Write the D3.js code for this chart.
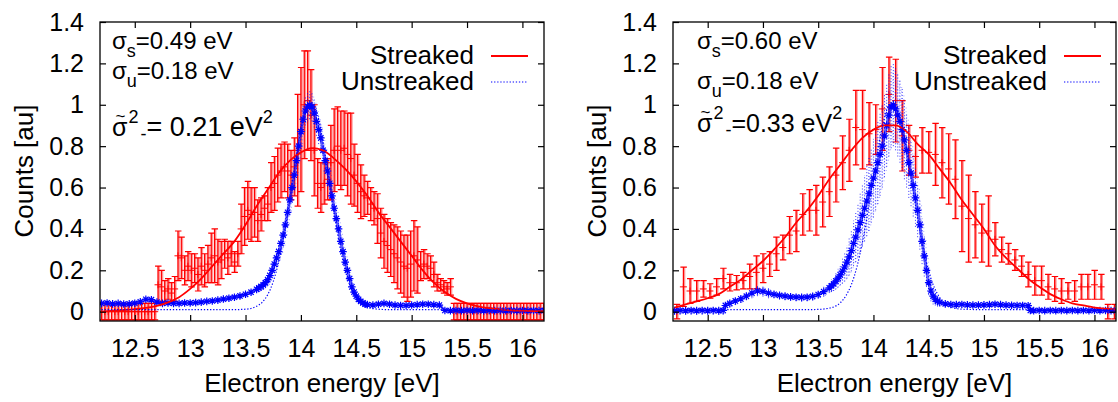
<!DOCTYPE html>
<html><head><meta charset="utf-8">
<script src="https://cdn.jsdelivr.net/npm/d3@7"></script>
<style>
body{margin:0;background:#fff}
svg{display:block}
text{font-family:"Liberation Sans",Arial,Helvetica,sans-serif;fill:#000}
</style>
</head><body>
<svg id="chart" width="1118" height="402"></svg>
<script>
// ---------------- tick labels ----------------
const xTicks = [12.5,13,13.5,14,14.5,15,15.5,16];
const xTickLabels = ["12.5","13","13.5","14","14.5","15","15.5","16"];
const yTicks = [0,0.2,0.4,0.6,0.8,1,1.2,1.4];
const yTickLabels = ["0","0.2","0.4","0.6","0.8","1","1.2","1.4"];
const xTitle = "Electron energy [eV]";
const yTitle = "Counts [au]";
const legendNames = ["Streaked","Unstreaked"];

// ---------------- LEFT panel: streaked data ----------------
const leftStreakE = [12.20,12.23,12.26,12.29,12.32,12.35,12.38,12.41,12.44,12.47,12.50,12.53,12.56,12.59,12.62,12.65,12.68,
12.71,12.74,12.77,12.80,12.83,12.86,12.89,12.92,12.95,12.98,
13.01,13.04,13.07,13.10,13.13,13.16,13.19,13.22,13.25,13.28,13.31,13.34,13.37,13.40,13.43,13.46,13.49,13.52,13.55,13.58,13.61,13.64,13.67,13.70,13.73,13.76,13.79,13.82,13.85,13.88,13.91,13.94,13.97,
14.00,14.03,14.06,14.09,14.12,14.15,14.18,14.21,14.24,14.27,14.30,14.33,14.36,14.39,14.42,14.45,14.48,14.51,14.54,14.57,14.60,14.63,14.66,14.69,14.72,14.75,14.78,14.81,14.84,14.87,14.90,14.93,14.96,14.99,
15.02,15.05,15.08,15.11,15.14,15.17,15.20,15.23,15.26,15.29,15.32,15.35,
15.38,15.41,15.44,15.47,15.50,15.53,15.56,15.59,15.62,15.65,15.68,15.71,15.74,15.77,15.80,15.83,15.86,15.89,15.92,15.95,15.98,16.01,16.04,16.07,16.10,16.13,16.16,16.19];
const leftStreakV = [0,0,0,0,0,0,0,0,0,0,0,0,0,0,0,0,0,
0.13,0.12,0.10,0.11,0.09,0.11,0.27,0.26,0.20,0.22,
0.20,0.21,0.18,0.22,0.20,0.23,0.26,0.27,0.24,0.25,0.28,0.26,0.28,0.24,0.28,0.40,0.46,0.49,0.47,0.48,0.44,0.47,0.50,0.52,0.60,0.62,0.66,0.68,0.70,0.68,0.66,0.70,0.78,
0.88,1.00,1.02,0.95,0.78,0.62,0.60,0.62,0.64,0.72,0.78,0.80,0.78,0.79,0.76,0.74,0.66,0.62,0.58,0.56,0.55,0.52,0.50,0.45,0.38,0.34,0.32,0.30,0.28,0.26,0.24,0.22,0.21,0.23,
0.27,0.25,0.22,0.23,0.22,0.21,0.18,0.14,0.13,0.12,0.11,0.12,
0,0,0,0,0,0,0,0,0,0,0,0,0,0,0,0,0,0,0,0,0,0,0,0,0,0,0,0];
const leftStreakErr = [0.04,0.04,0.04,0.04,0.04,0.04,0.04,0.04,0.04,0.04,0.04,0.04,0.04,0.04,0.04,0.04,0.04,
0.09,0.08,0.05,0.05,0.05,0.06,0.12,0.10,0.07,0.07,
0.08,0.07,0.08,0.09,0.08,0.09,0.12,0.13,0.11,0.09,0.07,0.08,0.06,0.05,0.06,0.12,0.14,0.14,0.13,0.12,0.10,0.08,0.06,0.08,0.12,0.13,0.13,0.13,0.12,0.13,0.12,0.14,0.27,
0.30,0.26,0.24,0.22,0.22,0.12,0.12,0.10,0.10,0.18,0.20,0.19,0.19,0.18,0.20,0.22,0.15,0.14,0.13,0.10,0.08,0.08,0.08,0.12,0.12,0.13,0.13,0.13,0.14,0.15,0.15,0.15,0.16,0.16,
0.17,0.16,0.07,0.07,0.06,0.06,0.06,0.04,0.03,0.03,0.03,0.04,
0.04,0.04,0.04,0.04,0.04,0.04,0.04,0.04,0.04,0.04,0.04,0.04,0.04,0.04,0.04,0.04,0.04,0.04,0.04,0.04,0.04,0.04,0.04,0.04,0.04,0.04,0.04,0.04];

// ---------------- LEFT panel: unstreaked data ----------------
const leftUnstreakE = [12.20,12.25,12.30,12.35,12.40,12.45,12.50,12.55,12.60,12.65,12.70,12.75,12.80,12.85,12.90,12.95,13.00,13.05,13.10,13.15,13.20,13.25,13.30,13.35,13.40,13.45,13.50,13.55,13.60,
13.62,13.64,13.66,13.68,13.70,13.72,13.74,13.76,13.78,13.80,13.82,13.84,13.86,13.88,13.90,13.92,13.94,13.96,13.98,
14.00,14.02,14.04,14.06,14.08,14.10,14.12,14.14,14.16,14.18,14.20,14.22,14.24,14.26,14.28,14.30,14.32,14.34,14.36,14.38,14.40,14.42,14.44,14.46,14.48,14.50,14.52,14.54,14.56,14.58,14.60,
14.65,14.70,14.75,14.80,14.85,14.90,14.95,15.00,15.05,15.10,15.15,15.20,15.25,
15.30,15.35,15.40,15.45,15.50,15.55,15.60,15.65,15.70,15.75,15.80,15.85,15.90,15.95,16.00,16.05,16.10,16.15,16.20];
const leftUnstreakV = [0.040,0.042,0.038,0.040,0.037,0.038,0.041,0.048,0.060,0.058,0.046,0.040,0.042,0.040,0.040,0.042,0.042,0.044,0.046,0.050,0.052,0.056,0.061,0.065,0.070,0.076,0.084,0.094,0.108,
0.115,0.122,0.13,0.14,0.155,0.175,0.20,0.23,0.26,0.29,0.33,0.37,0.42,0.48,0.54,0.60,0.66,0.73,0.80,
0.87,0.93,0.97,0.99,1.00,0.99,0.96,0.92,0.88,0.84,0.78,0.73,0.68,0.62,0.56,0.50,0.45,0.40,0.34,0.29,0.24,0.20,0.16,0.12,0.095,0.075,0.060,0.050,0.042,0.036,0.034,
0.032,0.036,0.040,0.036,0.032,0.030,0.030,0.032,0.034,0.036,0.036,0.034,0.032,
0.006,0.005,0.006,0.005,0.006,0.005,0.006,0.005,0.006,0.005,0.006,0.005,0.006,0.005,0.006,0.005,0.006,0.005,0.006];
const leftUnstreakErr = [0.012,0.012,0.012,0.012,0.012,0.012,0.012,0.012,0.012,0.012,0.012,0.012,0.012,0.012,0.012,0.012,0.012,0.012,0.012,0.012,0.012,0.012,0.015,0.015,0.015,0.015,0.015,0.015,0.015,
0.02,0.02,0.025,0.025,0.03,0.03,0.035,0.04,0.045,0.05,0.055,0.06,0.06,0.065,0.065,0.07,0.07,0.07,0.07,
0.07,0.07,0.07,0.07,0.07,0.07,0.07,0.07,0.07,0.07,0.07,0.065,0.065,0.06,0.06,0.055,0.05,0.05,0.045,0.04,0.035,0.03,0.03,0.025,0.02,0.02,0.015,0.015,0.012,0.012,0.012,
0.012,0.012,0.012,0.012,0.012,0.012,0.012,0.012,0.012,0.012,0.012,0.012,0.012,
0.008,0.008,0.008,0.008,0.008,0.008,0.008,0.008,0.008,0.008,0.008,0.008,0.008,0.008,0.008,0.008,0.008,0.008,0.008];

// ---------------- LEFT panel: fits ----------------
const leftStreakFitE = [12.2,12.3,12.4,12.5,12.6,12.7,12.8,12.9,13.0,13.1,13.2,13.3,13.4,13.5,13.6,13.7,13.8,13.9,14.0,14.1,14.2,14.3,14.4,14.5,14.6,14.7,14.8,14.9,15.0,15.1,15.2,15.3,15.4,15.5,15.6,15.7,15.8,15.9,16.0,16.1,16.2];
const leftStreakFitV = [0.000,0.005,0.008,0.012,0.018,0.028,0.045,0.07,0.11,0.16,0.22,0.28,0.34,0.42,0.51,0.59,0.67,0.73,0.77,0.79,0.78,0.74,0.69,0.63,0.56,0.48,0.41,0.34,0.27,0.20,0.14,0.095,0.062,0.04,0.026,0.017,0.011,0.007,0.005,0.003,0.002];
const leftUnstreakFitE = [12.2,12.4,12.6,12.8,13.0,13.2,13.4,13.5,13.6,13.65,13.7,13.75,13.8,13.85,13.9,13.95,14.0,14.05,14.1,14.15,14.2,14.25,14.3,14.35,14.4,14.45,14.5,14.55,14.6,14.7,14.8,15.0,15.5,16.2];
const leftUnstreakFitV = [0.01,0.01,0.01,0.01,0.01,0.01,0.01,0.012,0.026,0.045,0.082,0.145,0.243,0.38,0.545,0.72,0.88,0.98,1.00,0.95,0.82,0.65,0.476,0.32,0.20,0.116,0.064,0.036,0.021,0.012,0.01,0.01,0.01,0.01];

// ---------------- RIGHT panel: streaked data ----------------
const rightStreakE = [12.22,12.28,12.34,12.40,12.46,12.52,12.58,12.64,12.70,12.76,12.82,12.88,12.94,13.00,13.06,13.12,13.18,13.24,13.30,13.36,13.42,13.48,13.54,13.60,13.66,13.72,13.78,13.84,13.90,13.96,14.02,14.08,14.14,14.20,14.26,14.32,14.38,14.44,14.50,14.56,14.62,14.68,14.74,14.80,14.86,14.92,14.98,15.04,15.10,15.16,15.22,15.28,15.34,15.40,15.46,15.52,15.58,15.64,15.70,15.76,15.82,15.88,15.94,16.00,16.06,16.12,16.18];
const rightStreakV = [0.00,0.12,0.10,0.10,0.11,0.10,0.12,0.16,0.14,0.14,
0.15,0.17,0.19,0.21,0.23,0.28,0.31,0.37,0.39,0.47,
0.49,0.49,0.53,0.58,0.66,0.72,0.78,0.89,0.88,0.86,
0.88,0.98,1.05,1.02,0.85,0.78,0.75,0.78,0.77,0.76,
0.72,0.69,0.64,0.51,0.45,0.42,0.38,0.39,0.35,0.30,
0.28,0.25,0.22,0.18,0.15,0.15,0.12,0.11,0.10,0.10,
0.10,0.12,0.12,0.13,0.12,0.00,0.00];
const rightStreakErr = [0.035,0.095,0.06,0.05,0.04,0.035,0.04,0.05,0.04,0.035,
0.04,0.06,0.08,0.07,0.06,0.08,0.06,0.09,0.10,0.10,
0.10,0.12,0.12,0.12,0.13,0.13,0.15,0.18,0.19,0.15,
0.12,0.20,0.18,0.20,0.17,0.12,0.10,0.11,0.10,0.15,
0.17,0.17,0.19,0.22,0.21,0.16,0.14,0.17,0.08,0.06,
0.05,0.05,0.05,0.06,0.07,0.07,0.06,0.06,0.06,0.04,
0.05,0.06,0.06,0.07,0.06,0.035,0.035];

// ---------------- RIGHT panel: unstreaked data ----------------
const rightUnstreakE = [12.20,12.25,12.30,12.35,12.40,12.45,12.50,12.55,12.60,12.64,12.66,
12.70,12.75,12.80,12.85,12.90,12.95,13.00,13.05,13.10,13.15,13.20,13.25,13.30,13.35,13.40,13.45,13.50,13.55,13.60,
13.62,13.64,13.66,13.68,13.70,13.72,13.74,13.76,13.78,13.80,13.82,13.84,13.86,13.88,13.90,13.92,13.94,13.96,13.98,
14.00,14.02,14.04,14.06,14.08,14.10,14.12,14.14,14.16,14.18,14.20,14.22,14.24,14.26,14.28,14.30,14.32,14.34,14.36,14.38,14.40,14.42,14.44,14.46,14.48,14.50,14.52,14.54,14.56,14.58,14.60,
14.65,14.70,14.75,14.80,14.85,14.90,14.95,15.00,15.05,15.10,15.15,15.20,15.25,15.30,15.35,15.40,15.42,
15.45,15.50,15.55,15.60,15.65,15.70,15.75,15.80,15.85,15.90,15.95,16.00,16.05,16.10,16.15,16.20];
const rightUnstreakV = [0.005,0.006,0.005,0.006,0.005,0.006,0.005,0.006,0.005,0.006,0.030,
0.040,0.052,0.062,0.075,0.090,0.100,0.098,0.090,0.084,0.079,0.075,0.072,0.070,0.069,0.070,0.074,0.083,0.097,0.115,
0.125,0.135,0.148,0.162,0.178,0.196,0.216,0.24,0.265,0.295,0.33,0.36,0.395,0.43,0.465,0.50,0.535,0.57,0.61,
0.645,0.68,0.72,0.76,0.80,0.85,0.90,0.95,0.99,1.00,0.98,0.95,0.92,0.88,0.83,0.78,0.72,0.67,0.61,0.55,0.49,0.42,0.34,0.27,0.20,0.14,0.10,0.075,0.060,0.050,0.045,
0.038,0.035,0.034,0.035,0.033,0.032,0.032,0.033,0.034,0.036,0.034,0.032,0.031,0.030,0.030,0.029,0.006,
0.005,0.006,0.005,0.006,0.005,0.006,0.005,0.006,0.005,0.006,0.005,0.006,0.005,0.006,0.005,0.006];
const rightUnstreakErr = [0.02,0.02,0.02,0.02,0.02,0.02,0.02,0.02,0.02,0.02,0.015,
0.02,0.02,0.02,0.02,0.025,0.025,0.025,0.025,0.02,0.02,0.02,0.02,0.02,0.02,0.02,0.02,0.02,0.025,0.025,
0.03,0.035,0.04,0.045,0.05,0.06,0.07,0.08,0.09,0.10,0.11,0.12,0.13,0.14,0.15,0.16,0.17,0.18,0.18,
0.19,0.19,0.20,0.20,0.20,0.20,0.20,0.20,0.20,0.20,0.20,0.20,0.20,0.20,0.19,0.18,0.17,0.16,0.15,0.14,0.13,0.12,0.11,0.10,0.08,0.06,0.05,0.04,0.03,0.025,0.02,
0.015,0.015,0.015,0.015,0.015,0.015,0.015,0.015,0.015,0.015,0.015,0.015,0.015,0.015,0.015,0.015,0.01,
0.01,0.01,0.01,0.01,0.01,0.01,0.01,0.01,0.01,0.01,0.01,0.01,0.01,0.01,0.01,0.01];

// ---------------- RIGHT panel: fits ----------------
const rightStreakFitE = [12.2,12.3,12.4,12.5,12.6,12.7,12.8,12.9,13.0,13.1,13.2,13.3,13.4,13.5,13.6,13.7,13.8,13.9,14.0,14.1,14.2,14.3,14.4,14.5,14.6,14.7,14.8,14.9,15.0,15.1,15.2,15.3,15.4,15.5,15.6,15.7,15.8,15.9,16.0,16.1,16.2];
const rightStreakFitV = [0.02,0.035,0.05,0.065,0.085,0.12,0.155,0.20,0.245,0.30,0.36,0.43,0.49,0.56,0.64,0.71,0.78,0.84,0.88,0.90,0.90,0.87,0.81,0.76,0.69,0.62,0.54,0.47,0.40,0.32,0.26,0.21,0.16,0.12,0.085,0.06,0.04,0.03,0.02,0.015,0.01];
const rightUnstreakFitE = [12.2,12.4,12.6,12.8,13.0,13.2,13.4,13.5,13.6,13.65,13.7,13.75,13.8,13.85,13.9,13.95,14.0,14.05,14.1,14.15,14.2,14.25,14.3,14.35,14.4,14.45,14.5,14.55,14.6,14.7,14.8,15.0,15.5,16.2];
const rightUnstreakFitV = [0.01,0.01,0.01,0.01,0.01,0.01,0.01,0.011,0.017,0.025,0.043,0.076,0.131,0.216,0.335,0.484,0.65,0.81,0.937,1.00,0.996,0.916,0.78,0.617,0.452,0.308,0.196,0.118,0.068,0.023,0.012,0.01,0.01,0.01];

// ---------------- panel annotations ----------------
const leftNotes = {sigmaS:"=0.49 eV", sigmaU:"=0.18 eV", diff:"= 0.21 eV"};
const rightNotes = {sigmaS:"=0.60 eV", sigmaU:"=0.18 eV", diff:"=0.33 eV"};

// ================= drawing =================
const svg = d3.select("#chart");
const xDomain = [12.186, 16.195];
const yDomain = [-0.045, 1.4];
const TOP = 22, BOTTOM = 321;
const RED = "#ff0000", BLUE = "#0000ff";

const zip = (E, V, Er) => E.map((e, i) => ({e, v: V[i], err: Er ? Er[i] : 0}));

function drawPanel(id, left, right, d, notes, layout) {
  const g = svg.append("g");
  const x = d3.scaleLinear().domain(xDomain).range([left, right]);
  const y = d3.scaleLinear().domain(yDomain).range([BOTTOM, TOP]);

  svg.append("clipPath").attr("id", "clip" + id)
    .append("rect").attr("x", left).attr("y", TOP).attr("width", right - left).attr("height", BOTTOM - TOP);
  const plot = g.append("g").attr("clip-path", `url(#clip${id})`);

  // streaked data with error bars
  const sd = zip(d.sE, d.sV, d.sErr);
  const sg = plot.append("g").attr("fill", "none");
  sg.selectAll("line.under").data(sd).join("line").attr("class", "under")
    .attr("x1", p => x(p.e) + 0.8).attr("x2", p => x(p.e) + 0.8)
    .attr("y1", p => y(p.v - p.err)).attr("y2", p => y(p.v + p.err))
    .attr("stroke", "#ff7070").attr("stroke-width", 2.2).attr("opacity", 0.75);
  sg.selectAll("path.eb").data(sd).join("path").attr("class", "eb")
    .attr("stroke", RED).attr("stroke-width", 1.2)
    .attr("d", p => {
      const px = x(p.e), y0 = y(p.v - p.err), y1 = y(p.v + p.err);
      return `M${px},${y0}V${y1}M${px - 3},${y0}H${px + 3.5}M${px - 3},${y1}H${px + 3.5}`;
    });
  sg.selectAll("path.pt").data(sd).join("path").attr("class", "pt")
    .attr("stroke", RED).attr("stroke-width", 1)
    .attr("d", p => { const px = x(p.e), py = y(p.v); return `M${px - 3.5},${py}H${px + 3.5}M${px},${py - 3.5}V${py + 3.5}`; });

  // unstreaked data: dotted error bars + star points
  const ud = zip(d.uE, d.uV, d.uErr);
  const ug = plot.append("g").attr("stroke", BLUE).attr("fill", "none");
  ug.selectAll("line.eb").data(ud).join("line").attr("class", "eb")
    .attr("x1", p => x(p.e)).attr("x2", p => x(p.e))
    .attr("y1", p => y(p.v - p.err)).attr("y2", p => y(p.v + p.err))
    .attr("stroke-width", 1).attr("stroke-dasharray", "1,2").attr("opacity", 0.8);
  ug.selectAll("line.ebx").data(ud).join("line").attr("class", "ebx")
    .attr("x1", p => x(p.e) + 1.7).attr("x2", p => x(p.e) + 1.7)
    .attr("y1", p => y(p.v - p.err * 0.85)).attr("y2", p => y(p.v + p.err * 0.85))
    .attr("stroke-width", 0.8).attr("stroke-dasharray", "1,2.6").attr("opacity", 0.45);
  ug.append("path")
    .attr("d", d3.line().x(p => x(p.e)).y(p => y(p.v)).curve(d3.curveMonotoneX)(ud))
    .attr("stroke-width", 3).attr("opacity", 0.6);
  const r = 3.8, q = 2.7;
  ug.selectAll("path.st").data(ud).join("path").attr("class", "st")
    .attr("stroke-width", 1.2)
    .attr("d", p => { const px = x(p.e), py = y(p.v);
      return `M${px - r},${py}H${px + r}M${px},${py - r}V${py + r}M${px - q},${py - q}L${px + q},${py + q}M${px - q},${py + q}L${px + q},${py - q}`; });

  // fits
  const line = d3.line().x(p => x(p.e)).y(p => y(p.v)).curve(d3.curveMonotoneX);
  plot.append("path").attr("d", line(zip(d.sfE, d.sfV))).attr("fill", "none")
    .attr("stroke", RED).attr("stroke-width", 1.8);
  plot.append("path").attr("d", line(zip(d.ufE, d.ufV))).attr("fill", "none")
    .attr("stroke", BLUE).attr("stroke-width", 1.2).attr("stroke-dasharray", "1.3,1.8");

  // axes (ticks inward, mirrored)
  const tk = 6;
  const ax = [
    g.append("g").attr("transform", `translate(0,${BOTTOM})`)
      .call(d3.axisBottom(x).tickValues(xTicks).tickSize(-tk).tickPadding(18).tickFormat((v, i) => xTickLabels[i])),
    g.append("g").attr("transform", `translate(0,${TOP})`)
      .call(d3.axisTop(x).tickValues(xTicks).tickSize(-tk).tickFormat("")),
    g.append("g").attr("transform", `translate(${left},0)`)
      .call(d3.axisLeft(y).tickValues(yTicks).tickSize(-tk).tickPadding(16).tickFormat((v, i) => yTickLabels[i])),
    g.append("g").attr("transform", `translate(${right},0)`)
      .call(d3.axisRight(y).tickValues(yTicks).tickSize(-tk).tickFormat(""))
  ];
  ax.forEach(a => {
    a.select(".domain").remove();
    a.selectAll("line").attr("stroke", "#000").attr("stroke-width", 1.2);
    a.selectAll("text").attr("font-size", 25).attr("font-family", '"Liberation Sans",Arial,sans-serif').attr("fill", "#000");
  });
  g.append("rect").attr("x", left).attr("y", TOP).attr("width", right - left).attr("height", BOTTOM - TOP)
    .attr("fill", "none").attr("stroke", "#000").attr("stroke-width", 1.3);

  // axis titles
  g.append("text").attr("x", (left + right) / 2).attr("y", 392).attr("text-anchor", "middle")
    .attr("font-size", 26).text(xTitle);
  g.append("text").attr("transform", `translate(${left - 67},171) rotate(-90)`).attr("text-anchor", "middle")
    .attr("font-size", 26).text(yTitle);

  // legend (one text block, two lines)
  const lx = layout.legendX;
  const lt = g.append("text").attr("text-anchor", "end").attr("font-size", 26);
  [0, 1].forEach(k => {
    lt.append("tspan").attr("x", lx).attr("y", 64 + k * 26).text(legendNames[k]);
    const yy = 64 + k * 26 - 8;
    g.append("line").attr("x1", lx + 17).attr("x2", lx + 54).attr("y1", yy).attr("y2", yy)
      .attr("stroke", k === 0 ? RED : BLUE).attr("stroke-width", k === 0 ? 1.8 : 1.2)
      .attr("stroke-dasharray", k === 0 ? null : "1.3,1.8");
  });

  // annotations (one text block)
  const ax0 = left + layout.noteDx;
  const t = g.append("text").attr("font-size", 24);
  [["s", notes.sigmaS, layout.y1], ["u", notes.sigmaU, layout.y2]].forEach(([letter, rest, yb]) => {
    t.append("tspan").attr("x", ax0).attr("y", yb).text("σ");
    t.append("tspan").attr("font-size", 18).attr("dy", 8).text(letter);
    t.append("tspan").attr("dy", -8).text(rest);
  });
  t.append("tspan").attr("x", ax0).attr("y", layout.y3).attr("font-size", 25).text("σ");
  t.append("tspan").attr("font-size", 17).attr("dx", -12).attr("dy", -14).text("~");
  t.append("tspan").attr("font-size", 18).attr("dx", 3).attr("dy", 1).text("2");
  t.append("tspan").attr("font-size", 18).attr("dx", 2).attr("dy", 17).text("-");
  t.append("tspan").attr("font-size", layout.bigSize).attr("dy", -4).text(notes.diff);
  t.append("tspan").attr("font-size", 18).attr("dy", -13).text("2");
}

drawPanel("L", 100, 544,
  {sE: leftStreakE, sV: leftStreakV, sErr: leftStreakErr,
   uE: leftUnstreakE, uV: leftUnstreakV, uErr: leftUnstreakErr,
   sfE: leftStreakFitE, sfV: leftStreakFitV, ufE: leftUnstreakFitE, ufV: leftUnstreakFitV},
  leftNotes, {legendX: 474, noteDx: 12, y1: 49, y2: 79, y3: 136, bigSize: 27});
drawPanel("R", 673, 1116,
  {sE: rightStreakE, sV: rightStreakV, sErr: rightStreakErr,
   uE: rightUnstreakE, uV: rightUnstreakV, uErr: rightUnstreakErr,
   sfE: rightStreakFitE, sfV: rightStreakFitV, ufE: rightUnstreakFitE, ufV: rightUnstreakFitV},
  rightNotes, {legendX: 1047, noteDx: 24, y1: 49, y2: 89, y3: 132, bigSize: 25});
</script>
</body></html>
